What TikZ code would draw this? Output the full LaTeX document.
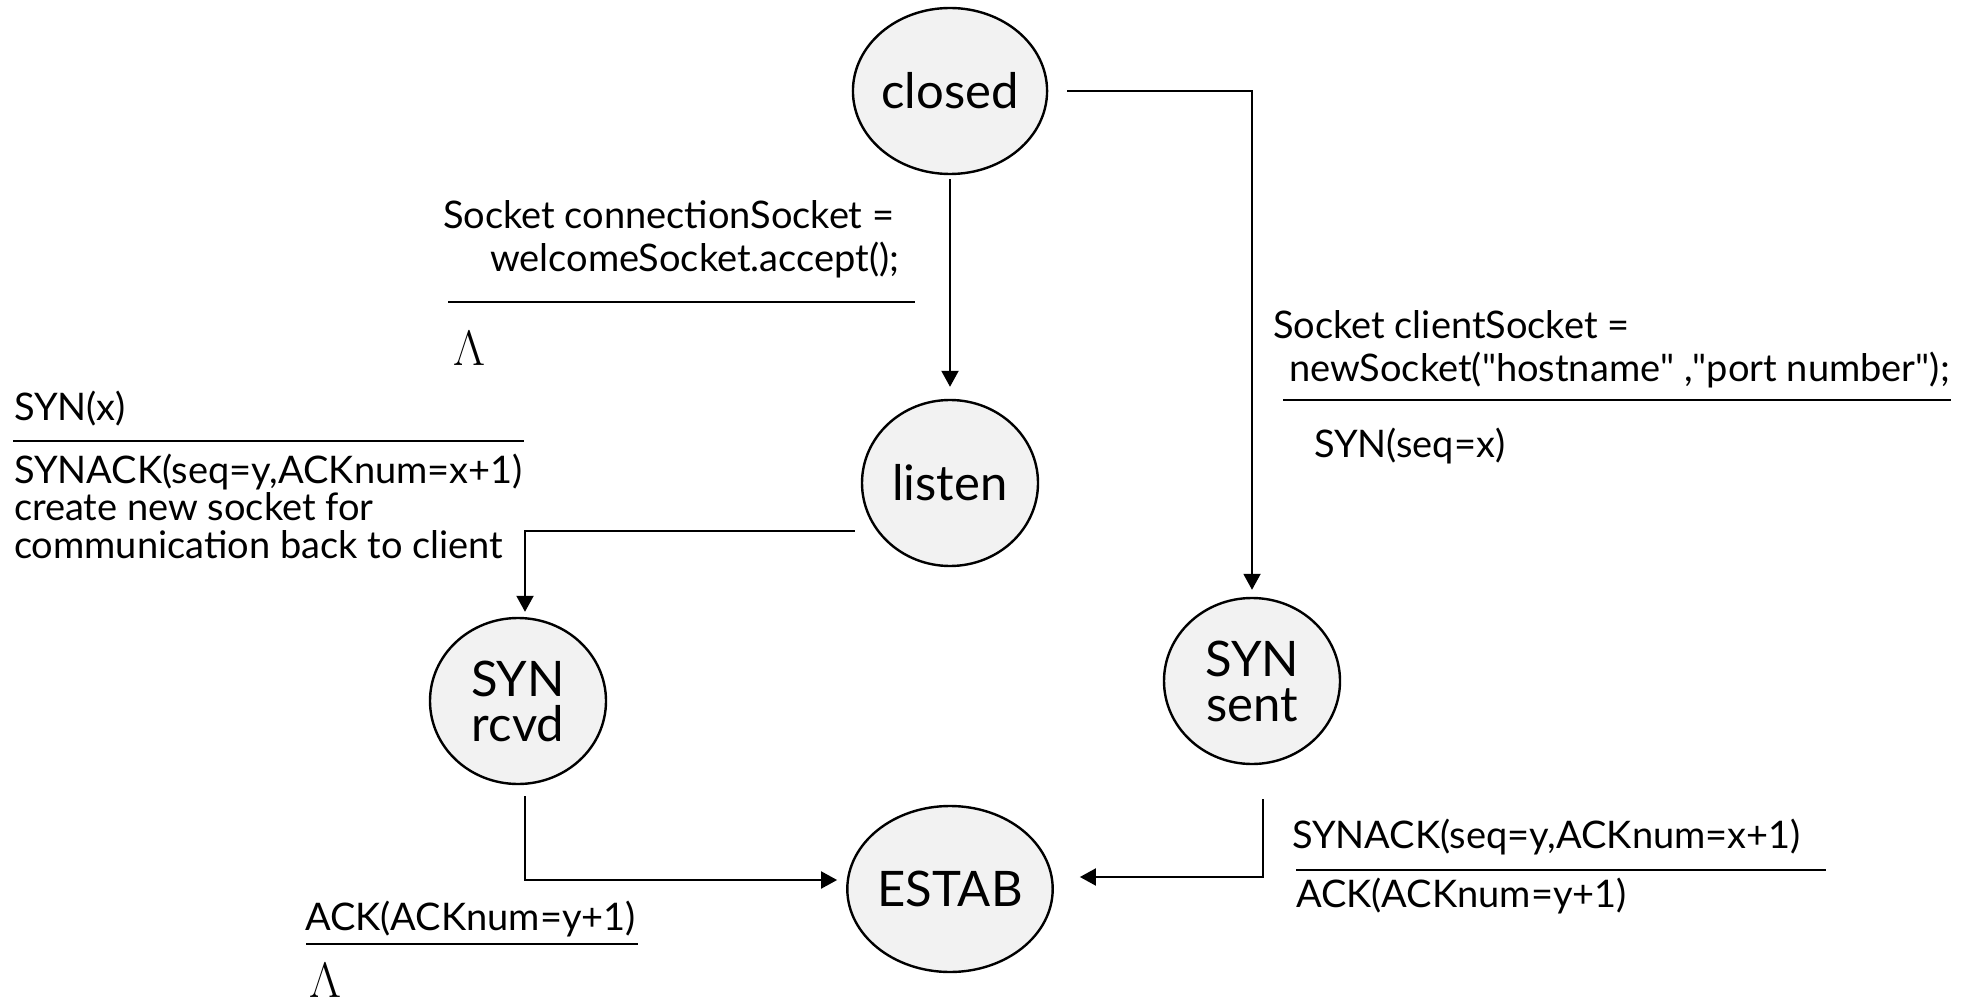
\documentclass[tikz,border=0pt]{standalone}
\usepackage{amsmath}
\usepackage{fontspec}
\setmainfont{Lato}
\newfontfamily\plainlato{Lato}
\usepackage{tikz}
\usetikzlibrary{automata, positioning, shapes.geometric, arrows.meta}

\begin{document}
\begin{tikzpicture}[x=0.5pt,y=-0.5pt,node distance=196pt,on grid,line width=1pt,
    >={Triangle[length=8pt,width=8.5pt]}]
  \tikzstyle{every state}=[ellipse, fill={rgb:black,1;white,19}, text=black, line width=1.2pt,
    minimum width=88pt, minimum height=83pt, inner sep=0pt, align=center,
    font=\fontsize{24.5}{22.5}\selectfont]
  \tikzstyle{lbl}=[anchor=base west, inner sep=0pt, align=left, font=\fontsize{19}{21.5}\selectfont]
  \tikzstyle{lam}=[anchor=base west, inner sep=0pt, font=\fontsize{24}{24}\selectfont]

  \useasboundingbox (0,0) rectangle (1974,1005);

    \node[state]  (closed) at (950,91)                             {closed};
    \node[state]  (listen) [below=of closed]                       {listen};
    \node[state]  (rcvd)   [below left=109pt and 216pt of listen]  {SYN\\rcvd};
    \node[state]  (sent)   [below right=295pt and 151pt of closed] {SYN\\sent};
    \node[state]  (estab)  [below=203pt of listen]                 {ESTAB};

    \path[->]
    (closed) edge [shorten <=2pt, shorten >=6pt] (listen);
    \draw[->, shorten <=9.5pt, shorten >=3.5pt] (closed.east) -| (sent.north);
    \draw[->, shorten <=3pt, shorten >=2.5pt] ([yshift=-24pt]listen.west) -| ([xshift=3.5pt]rcvd.north);
    \draw[->, shorten <=5.5pt, shorten >=4.5pt] ([xshift=3.5pt]rcvd.south) |- ([yshift=4.5pt]estab.west);
    \draw[->, shorten <=17pt, shorten >=13pt] ([xshift=5.5pt]sent.south) |- ([yshift=6pt]estab.east);

    \node[lbl] (acclbl) at (442,272) {Socket connectionSocket =\\\hspace*{23.5pt}welcomeSocket.accept();};
    \draw (448,302) -- (915,302);
    \node[lam] (acclam) at (452,365) {$\Lambda$};

    \node[lbl] (synlbl) at (13,420) {SYN(x)};
    \draw (13,441) -- (524,441);
    \node[lbl, font=\fontsize{19}{18.75}\selectfont] (synack) at (13,558)
      {SYNACK(seq=y,ACKnum=x+1)\\create new socket for\\communication back to client};

    \node[lbl, font=\fontsize{19}{21}\selectfont] (clientlbl) at (1272,381)
      {Socket clientSocket =\\\hspace*{8pt}newSocket({\plainlato"}hostname{\plainlato"} ,{\plainlato"}port number{\plainlato"});};
    \draw (1283,400) -- (1951,400);
    \node[lbl] (synseq) at (1313,457) {SYN(seq=x)};

    \node[lbl] (acklbl) at (304,930) {ACK(ACKnum=y+1)};
    \draw (306,944) -- (638,944);
    \node[lam] (acklam) at (308,997) {$\Lambda$};

    \node[lbl] (synackr) at (1291,848) {SYNACK(seq=y,ACKnum=x+1)};
    \draw (1296,870) -- (1826,870);
    \node[lbl] (ackr) at (1295,907) {ACK(ACKnum=y+1)};

\end{tikzpicture}
\end{document}
